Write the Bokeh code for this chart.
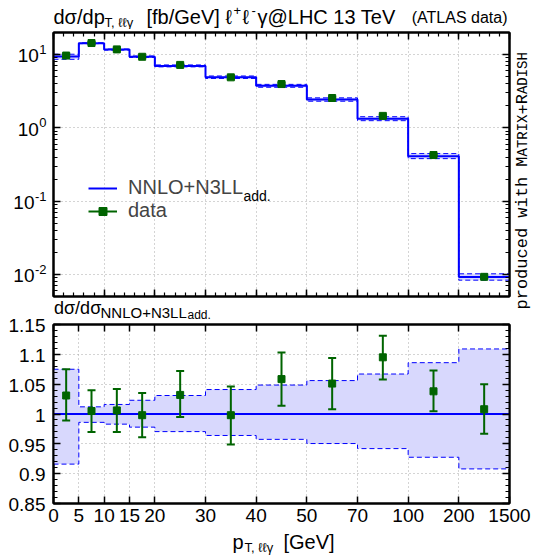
import numpy as np
from bokeh.plotting import figure
from bokeh.models import (ColumnDataSource, Label, FixedTicker, LinearAxis, LogAxis,
                          CustomJSTickFormatter, Range1d, Legend, LegendItem)
from bokeh.core.properties import value
from bokeh.layouts import row, column
from bokeh.embed import file_html
from bokeh.resources import INLINE

# ---------------- data ----------------
bin_edges_gev = [0, 5, 10, 15, 20, 30, 40, 50, 70, 100, 200, 1500]
edge_labels = ["0", "5", "10", "15", "20", "30", "40", "50", "70", "100", "200", "1500"]
nnlo_xsec = [9.4, 14.3, 11.7, 9.35, 7.0, 4.9, 3.74, 2.43, 1.33, 0.41, 0.0092]
band_lo = [0.916, 0.986, 0.983, 0.978, 0.9705, 0.964, 0.9575, 0.9505, 0.942, 0.9275, 0.908]
band_hi = [1.075, 1.012, 1.016, 1.023, 1.031, 1.041, 1.0485, 1.056, 1.067, 1.086, 1.109]
data_ratio = [1.031, 1.005, 1.006, 0.998, 1.032, 0.998, 1.0585, 1.051, 1.095, 1.038, 1.008]
data_ratio_lo = [0.989, 0.970, 0.970, 0.961, 0.995, 0.949, 1.014, 1.008, 1.058, 1.0045, 0.967]
data_ratio_hi = [1.075, 1.040, 1.042, 1.035, 1.072, 1.046, 1.103, 1.094, 1.131, 1.073, 1.050]
ratio_ticks = [0.85, 0.9, 0.95, 1.0, 1.05, 1.1, 1.15]
ratio_labels = ["0.85", "0.9", "0.95", "1", "1.05", "1.1", "1.15"]
log_ticks = [0.01, 0.1, 1.0, 10.0]

# ---------------- derived arrays ----------------
gev = np.array(bin_edges_gev, float)
widths = np.where(gev[1:] <= 20, 1.0, 2.0)          # narrow display bins below 20 GeV
xe = np.concatenate([[0.0], np.cumsum(widths)])    # display bin edges
xc = 0.5 * (xe[:-1] + xe[1:])
nn = np.array(nnlo_xsec)
blo, bhi = np.array(band_lo), np.array(band_hi)
dr, drl, drh = np.array(data_ratio), np.array(data_ratio_lo), np.array(data_ratio_hi)

def ext(a):
    a = np.asarray(a, float)
    return np.append(a, a[-1])

BLUE = "#0000ff"
BAND = "#d8d8fd"
GREEN = "#006400"
GRIDC = "#a8a8a8"
FONT = "Liberation Sans"
MONO = "Liberation Mono"
KFIX = 0.3   # label anchor correction (em) so that the glyph baseline lands where wanted

# ---------------- page geometry ----------------
FL, FR = 53.0, 509.0          # frame left / right (page px)
TT, TB = 32.0, 296.0          # top panel frame
BT, BB = 324.0, 503.0         # ratio panel frame
C0, C1, C2 = 47, 465, 21      # column widths
R0, R1, R2, R3, R4 = 29, 270, 22, 209, 25   # row heights
YT0, YT1 = 0.005, 20.0
YB0, YB1 = 0.85, 1.15
X0, X1 = 0.0, float(xe[-1])

def py_top(v):
    l0, l1 = np.log10(YT0), np.log10(YT1)
    return float(TT + (l1 - np.log10(v)) / (l1 - l0) * (TB - TT))

def py_bot(v):
    return float(BT + (YB1 - v) / (YB1 - YB0) * (BB - BT))

def strip(w, h, bl=0, br=0, x0=0.0):
    # a text-only figure; its frame maps page x (offset x0) and page y one to one
    f = figure(width=w, height=h, x_range=Range1d(x0 + bl, x0 + w - br), y_range=Range1d(0, h),
               output_backend="svg", toolbar_location=None, min_border=0,
               min_border_left=bl, min_border_right=br,
               x_axis_location=None, y_axis_location=None)
    f.outline_line_color = None
    f.grid.visible = False
    return f

def stxt(fig, oy, h, X, Y, s, size, align="left", font=FONT, rotated=False, ox=0.0):
    if rotated:
        X = X - KFIX * size
        ang = np.pi / 2
    else:
        Y = Y - KFIX * size
        ang = 0.0
    fig.add_layout(Label(x=float(X - ox), y=float(oy + h - Y), text=s, text_font=font,
                         text_font_size=f"{size}px", text_align=align,
                         text_baseline="alphabetic", text_color="black", angle=float(ang)))

blank = CustomJSTickFormatter(code="return '';")

def style_axis(ax, show=False, standoff=5):
    ax.major_tick_in = 7
    ax.major_tick_out = 0
    ax.minor_tick_in = 4
    ax.minor_tick_out = 0
    ax.axis_line_width = 2
    ax.axis_line_color = "black"
    ax.major_tick_line_color = "black"
    ax.minor_tick_line_color = "black"
    ax.major_tick_line_width = 1.5
    ax.minor_tick_line_width = 1.2
    if show:
        ax.major_label_text_font = FONT
        ax.major_label_text_font_size = "19px"
        ax.major_label_text_color = "black"
        ax.major_label_standoff = standoff
    else:
        ax.formatter = blank
        ax.major_label_text_font_size = "1px"
        ax.major_label_standoff = 0

def style_grid(fig):
    for g in (fig.xgrid, fig.ygrid):
        g.grid_line_color = GRIDC
        g.grid_line_dash = "1 3"
        g.grid_line_width = 1

# ---------------- top panel ----------------
top = figure(width=C1, height=R1, x_range=Range1d(X0, X1), y_range=Range1d(YT0, YT1),
             y_axis_type="log", output_backend="svg", toolbar_location=None,
             min_border_left=int(FL - C0), min_border_right=int(C0 + C1 - FR),
             min_border_top=int(TT - R0), min_border_bottom=int(R0 + R1 - TB))
top.outline_line_color = "black"
top.outline_line_width = 2

even_ticks = [float(v) for v in np.arange(X0, X1 + 0.01, 2.0)]
xminor_top = [float(v) for v in np.arange(X0, X1 + 0.01, 0.4)]
log_minor = [float(k * 10.0 ** e) for e in range(-3, 2) for k in range(2, 10)]

for ax in top.xaxis:
    ax.ticker = FixedTicker(ticks=even_ticks, minor_ticks=xminor_top)
    style_axis(ax)
for ax in top.yaxis:
    ax.ticker = FixedTicker(ticks=log_ticks, minor_ticks=log_minor)
    style_axis(ax)
ax_t = LinearAxis(ticker=FixedTicker(ticks=even_ticks, minor_ticks=xminor_top))
style_axis(ax_t)
top.add_layout(ax_t, "above")
ax_r = LogAxis(ticker=FixedTicker(ticks=log_ticks, minor_ticks=log_minor))
style_axis(ax_r)
top.add_layout(ax_r, "right")
top.xgrid.ticker = FixedTicker(ticks=even_ticks)
top.ygrid.ticker = FixedTicker(ticks=log_ticks)
style_grid(top)

top.varea_step(x=xe, y1=ext(nn * blo), y2=ext(nn * bhi), step_mode="after",
               fill_color=BAND, fill_alpha=1.0)
top.step(x=xe, y=ext(nn * blo), mode="after", line_color=BLUE, line_width=1, line_dash="5 3")
top.step(x=xe, y=ext(nn * bhi), mode="after", line_color=BLUE, line_width=1, line_dash="5 3")
central_top = top.step(x=xe, y=ext(nn), mode="after", line_color=BLUE, line_width=2)

src_top = ColumnDataSource(dict(x=xc, y=nn * dr, lo=nn * drl, hi=nn * drh))
bars_top = top.segment(x0="x", y0="lo", x1="x", y1="hi", source=src_top,
                       line_color=GREEN, line_width=2)
top.scatter(x="x", y="lo", source=src_top, marker="dash", size=8, line_color=GREEN, line_width=2)
top.scatter(x="x", y="hi", source=src_top, marker="dash", size=8, line_color=GREEN, line_width=2)
sq_top = top.scatter(x="x", y="y", source=src_top, marker="square", size=7,
                     fill_color=GREEN, line_color=GREEN)

legend = Legend(items=[LegendItem(label=value("NNLO+N3LL"), renderers=[central_top]),
                       LegendItem(label=value("data"), renderers=[bars_top, sq_top])],
                location=(35, 74), orientation="vertical", glyph_width=29, glyph_height=20,
                label_standoff=11, label_text_font=FONT, label_text_font_size="20px",
                spacing=0, padding=0, margin=0,
                border_line_color=None, background_fill_alpha=0)
top.add_layout(legend)
# subscript of the legend label (inside the frame)
l0_, l1_ = np.log10(YT0), np.log10(YT1)
ysub = 200 - KFIX * 14
top.add_layout(Label(x=float(X0 + (243 - FL) / (FR - FL) * (X1 - X0)),
                     y=float(10 ** (l1_ - (ysub - TT) / (TB - TT) * (l1_ - l0_))),
                     text="add.", text_font=FONT, text_font_size="14px",
                     text_baseline="alphabetic", text_color="black"))

# ---------------- ratio panel ----------------
bot = figure(width=C1 + C2, height=R3, x_range=top.x_range, y_range=Range1d(YB0, YB1),
             output_backend="svg", toolbar_location=None,
             min_border_left=int(FL - C0), min_border_right=int(C0 + C1 + C2 - FR),
             min_border_top=int(BT - (R0 + R1 + R2)), min_border_bottom=int(R0 + R1 + R2 + R3 - BB))
bot.outline_line_color = "black"
bot.outline_line_width = 2

edge_ticks = [float(v) for v in xe]
ratio_minor = [float(v) for v in np.round(np.arange(0.85, 1.1501, 0.01), 3)]
xfmt = CustomJSTickFormatter(args=dict(pos=edge_ticks, labs=edge_labels), code="""
for (let i = 0; i < pos.length; i++) { if (Math.abs(pos[i] - tick) < 1e-6) return labs[i]; }
return '';
""")
for ax in bot.xaxis:
    ax.ticker = FixedTicker(ticks=edge_ticks, minor_ticks=[])
    style_axis(ax, show=True, standoff=5)
    ax.formatter = xfmt
for ax in bot.yaxis:
    ax.ticker = FixedTicker(ticks=ratio_ticks, minor_ticks=ratio_minor)
    style_axis(ax)
ax_bt = LinearAxis(ticker=FixedTicker(ticks=edge_ticks, minor_ticks=[]))
style_axis(ax_bt)
bot.add_layout(ax_bt, "above")
ax_br = LinearAxis(ticker=FixedTicker(ticks=ratio_ticks, minor_ticks=ratio_minor))
style_axis(ax_br)
bot.add_layout(ax_br, "right")
bot.xgrid.ticker = FixedTicker(ticks=edge_ticks)
bot.ygrid.ticker = FixedTicker(ticks=ratio_ticks)
style_grid(bot)

bot.varea_step(x=xe, y1=ext(blo), y2=ext(bhi), step_mode="after", fill_color=BAND, fill_alpha=1.0)
bot.step(x=xe, y=ext(blo), mode="after", line_color=BLUE, line_width=1, line_dash="5 3")
bot.step(x=xe, y=ext(bhi), mode="after", line_color=BLUE, line_width=1, line_dash="5 3")
bot.step(x=xe, y=ext(nn / nn), mode="after", line_color=BLUE, line_width=2)

src_bot = ColumnDataSource(dict(x=xc, y=dr, lo=drl, hi=drh))
bot.segment(x0="x", y0="lo", x1="x", y1="hi", source=src_bot, line_color=GREEN, line_width=2)
bot.scatter(x="x", y="lo", source=src_bot, marker="dash", size=8, line_color=GREEN, line_width=2)
bot.scatter(x="x", y="hi", source=src_bot, marker="dash", size=8, line_color=GREEN, line_width=2)
bot.scatter(x="x", y="y", source=src_bot, marker="square", size=7, fill_color=GREEN, line_color=GREEN)

# ---------------- text strips ----------------
# title strip: page x 0..533, y 0..29
title = strip(C0 + C1 + C2, R0)
T = (title, 0, R0)
stxt(*T, 53, 22, "dσ/dp", 20)
stxt(*T, 104, 25.5, "T, ℓℓγ", 13)
stxt(*T, 146, 22, "[fb/GeV]", 20)
stxt(*T, 225, 22, "ℓ", 20)
stxt(*T, 233, 14, "+", 13)
stxt(*T, 242, 22, "ℓ", 20)
stxt(*T, 251, 14, "-", 13)
stxt(*T, 257, 22, "γ@LHC 13 TeV", 20)
stxt(*T, 507, 22, "(ATLAS data)", 16, align="right")

# left strip: page x 0..47, y 29..555  (y tick labels of both panels)
left = strip(C0, R1 + R2 + R3 + R4)
L = (left, R0, R1 + R2 + R3 + R4)

def sup_width(s, size):
    return size * sum(0.333 if c == "-" else 0.556 for c in s)

for t in log_ticks:
    e = int(round(np.log10(t)))
    s = str(e)
    w = sup_width(s, 13)
    yt = py_top(t)
    stxt(*L, 46 - w - 0.5, yt + 7, "10", 19, align="right")
    stxt(*L, 46 - w, yt - 1, s, 13)
for v, s in zip(ratio_ticks, ratio_labels):
    stxt(*L, 45, py_bot(v) + 7, s, 19, align="right")

# gap strip: page x 47..512, y 299..321 (frame aligned with the top panel frame)
gap = strip(C1, R2, bl=int(FL - C0), br=int(C0 + C1 - FR), x0=C0)
G = (gap, R0 + R1, R2)
stxt(*G, 53.5, 313, "dσ/dσ", 18)
stxt(*G, 100, 316.5, "NNLO+N3LL", 15)
stxt(*G, 187, 318, "add.", 12)

# x-label strip: page x 47..533, y 530..555 (frame aligned with the ratio frame)
xlab = strip(C1 + C2, R4, bl=int(FL - C0), br=int(C0 + C1 + C2 - FR), x0=C0)
XL = (xlab, R0 + R1 + R2 + R3, R4)
stxt(*XL, 232, 547, "p", 20)
stxt(*XL, 244, 550.5, "T, ℓℓγ", 13)
stxt(*XL, 283, 547, "[GeV]", 20)

# side strip: page x 512..533, y 29..321 (rotated note)
side = strip(C2, R1 + R2, x0=C0 + C1)
S = (side, R0, R1 + R2)
pieces = [("produced with", 14, 17.0), ("M", 1, 17.0), ("ATRIX", 5, 14.0), ("+", 1, 17.0),
          ("R", 1, 17.0), ("ADISH", 5, 14.0)]
ypage = 309.0
for s, n, fs in pieces:
    stxt(*S, 527, ypage, s, fs, font=MONO, rotated=True)
    ypage -= 0.6 * fs * n

layout = column(
    title,
    row(left,
        column(row(column(top, gap), side), bot, xlab)),
)
open("out.html", "w").write(file_html(layout, INLINE))
